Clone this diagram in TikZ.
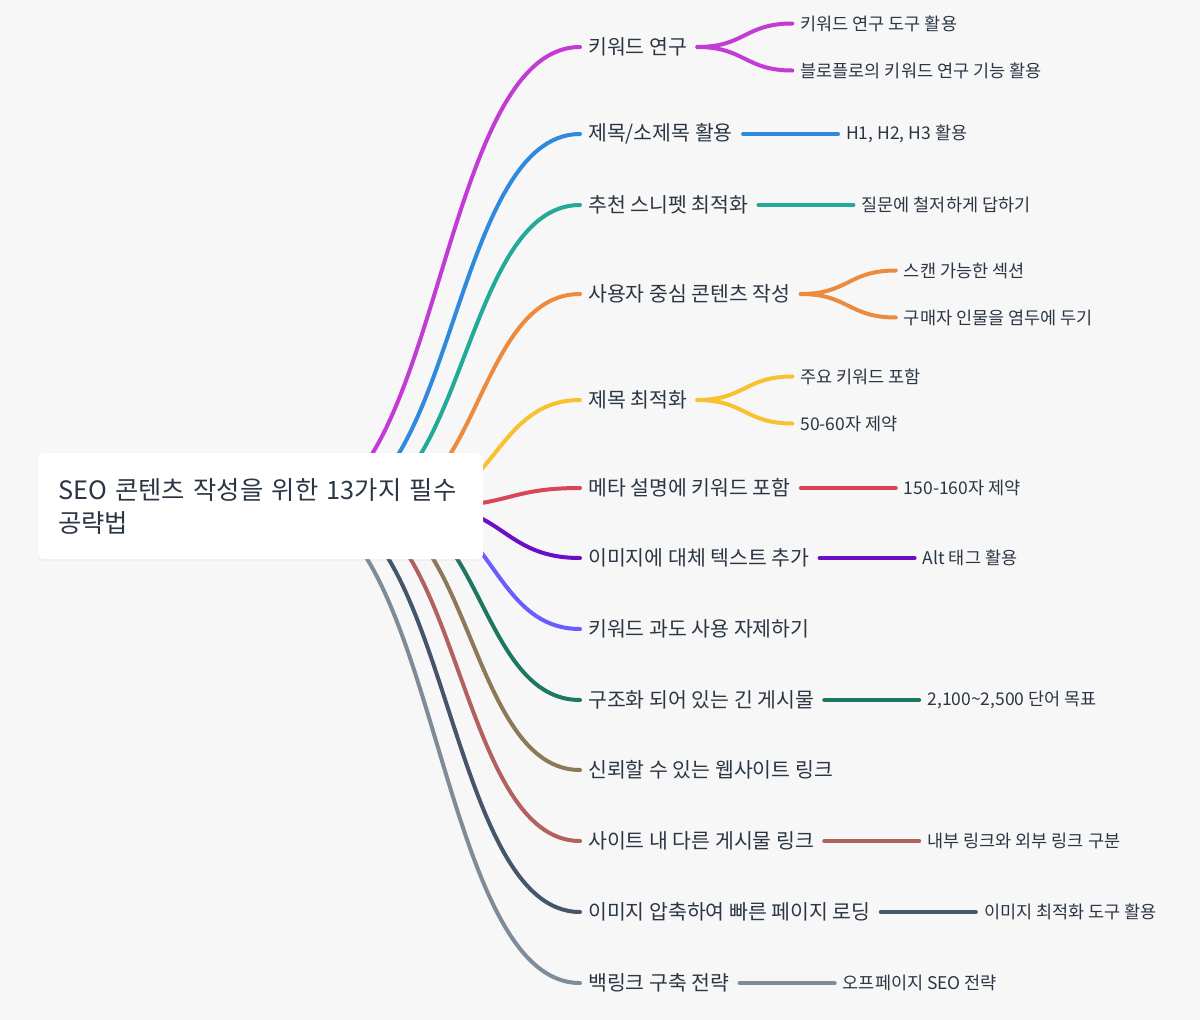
\documentclass[tikz,border=0pt]{standalone}
\usepackage{fontspec}
\setmainfont{Noto Sans CJK KR}
\usetikzlibrary{positioning,shadows}
\pgfdeclarelayer{bg}
\pgfsetlayers{bg,main}

\definecolor{bgc}{HTML}{F7F7F7}
\definecolor{txt}{HTML}{2B3645}
\definecolor{cmag}{HTML}{C23BD4}
\definecolor{cblue}{HTML}{2F89DC}
\definecolor{cteal}{HTML}{22A997}
\definecolor{corange}{HTML}{EC8A3E}
\definecolor{cyellow}{HTML}{F7C12F}
\definecolor{cred}{HTML}{D9465A}
\definecolor{cpurple}{HTML}{6A0FC5}
\definecolor{cviolet}{HTML}{6B5CFF}
\definecolor{cgreen}{HTML}{1E7763}
\definecolor{colive}{HTML}{8C7957}
\definecolor{cbrown}{HTML}{B3615F}
\definecolor{cslate}{HTML}{45566A}
\definecolor{cgrey}{HTML}{7E8C9A}

% root link: from inside the root box to the west side of a branch
\newcommand\rootlink[3]{%
  \pgfmathsetmacro\sx{443-0.312*abs(#3-506)}
  \pgfmathsetmacro\mx{(\sx+580)/2}
  \draw[link,#2] (root.center -| \sx,0) .. controls (\mx,506) and (\mx,#3) .. ([xshift=-8pt]#1.west);
}
% branch to leaf
\newcommand\sublink[3]{%
  \draw[link,#3] ([xshift=10pt]#1.east) .. controls +(47.5,0) and +(-47.5,0) .. ([xshift=-8pt]#2.west);
}

\begin{document}
\begin{tikzpicture}[x=1pt, y=-1pt,
    link/.style={line width=4pt, line cap=round},
    lvone/.style={anchor=west, inner sep=0pt, text=txt, font=\fontsize{20.5}{24}\selectfont},
    leaf/.style={inner sep=0pt, text=txt, font=\fontsize{17.5}{20}\selectfont},
    rootbox/.style={anchor=north west, fill=white, rounded corners=6pt, minimum width=445pt, minimum height=106pt,
      inner xsep=20pt, text width=405pt, align=left, text=txt, font=\fontsize{25.3}{33}\selectfont,
      drop shadow={opacity=0.06, shadow xshift=0pt, shadow yshift=-2pt}}]
    \useasboundingbox (0,0) rectangle (1200,1020);

    \node[rootbox] (root) at (38,453) {SEO 콘텐츠 작성을 위한 13가지 필수\\공략법};

    % main branches
    \node[lvone] (kw) at (588,47) {키워드 연구};
    \node[lvone] (head) at (588,134) {제목/소제목 활용};
    \node[lvone] (snip) at (588,205) {추천 스니펫 최적화};
    \node[lvone] (user) at (588,294) {사용자 중심 콘텐츠 작성};
    \node[lvone] (title) at (588,400) {제목 최적화};
    \node[lvone] (meta) at (588,488) {메타 설명에 키워드 포함};
    \node[lvone] (alt) at (588,558) {이미지에 대체 텍스트 추가};
    \node[lvone] (over) at (588,629) {키워드 과도 사용 자제하기};
    \node[lvone] (long) at (588,700) {구조화 되어 있는 긴 게시물};
    \node[lvone] (trust) at (588,770) {신뢰할 수 있는 웹사이트 링크};
    \node[lvone] (inner) at (588,841) {사이트 내 다른 게시물 링크};
    \node[lvone] (comp) at (588,912) {이미지 압축하여 빠른 페이지 로딩};
    \node[lvone] (back) at (588,983) {백링크 구축 전략};

    % leaves
    \node[leaf, right=113pt of kw, yshift=23.5pt] (kwa) {키워드 연구 도구 활용};
    \node[leaf, right=113pt of kw, yshift=-23.5pt] (kwb) {블로플로의 키워드 연구 기능 활용};
    \node[leaf, right=113pt of head] (heada) {H1, H2, H3 활용};
    \node[leaf, right=113pt of snip] (snipa) {질문에 철저하게 답하기};
    \node[leaf, right=113pt of user, yshift=23.5pt] (usera) {스캔 가능한 섹션};
    \node[leaf, right=113pt of user, yshift=-23.5pt] (userb) {구매자 인물을 염두에 두기};
    \node[leaf, right=113pt of title, yshift=23.5pt] (titlea) {주요 키워드 포함};
    \node[leaf, right=113pt of title, yshift=-23.5pt] (titleb) {50-60자 제약};
    \node[leaf, right=113pt of meta] (metaa) {150-160자 제약};
    \node[leaf, right=113pt of alt] (alta) {Alt 태그 활용};
    \node[leaf, right=113pt of long] (longa) {2,100\textasciitilde2,500 단어 목표};
    \node[leaf, right=113pt of inner] (innera) {내부 링크와 외부 링크 구분};
    \node[leaf, right=113pt of comp] (compa) {이미지 최적화 도구 활용};
    \node[leaf, right=113pt of back] (backa) {오프페이지 SEO 전략};

    \begin{pgfonlayer}{bg}
    \fill[bgc] (0,0) rectangle (1200,1020);
    \rootlink{kw}{cmag}{47}
    \rootlink{head}{cblue}{134}
    \rootlink{snip}{cteal}{205}
    \rootlink{user}{corange}{294}
    \rootlink{title}{cyellow}{400}
    \rootlink{meta}{cred}{488}
    \rootlink{alt}{cpurple}{558}
    \rootlink{over}{cviolet}{629}
    \rootlink{long}{cgreen}{700}
    \rootlink{trust}{colive}{770}
    \rootlink{inner}{cbrown}{841}
    \rootlink{comp}{cslate}{912}
    \rootlink{back}{cgrey}{983}
    \end{pgfonlayer}

    \sublink{kw}{kwa}{cmag}
    \sublink{kw}{kwb}{cmag}
    \sublink{head}{heada}{cblue}
    \sublink{snip}{snipa}{cteal}
    \sublink{user}{usera}{corange}
    \sublink{user}{userb}{corange}
    \sublink{title}{titlea}{cyellow}
    \sublink{title}{titleb}{cyellow}
    \sublink{meta}{metaa}{cred}
    \sublink{alt}{alta}{cpurple}
    \sublink{long}{longa}{cgreen}
    \sublink{inner}{innera}{cbrown}
    \sublink{comp}{compa}{cslate}
    \sublink{back}{backa}{cgrey}
\end{tikzpicture}
\end{document}
